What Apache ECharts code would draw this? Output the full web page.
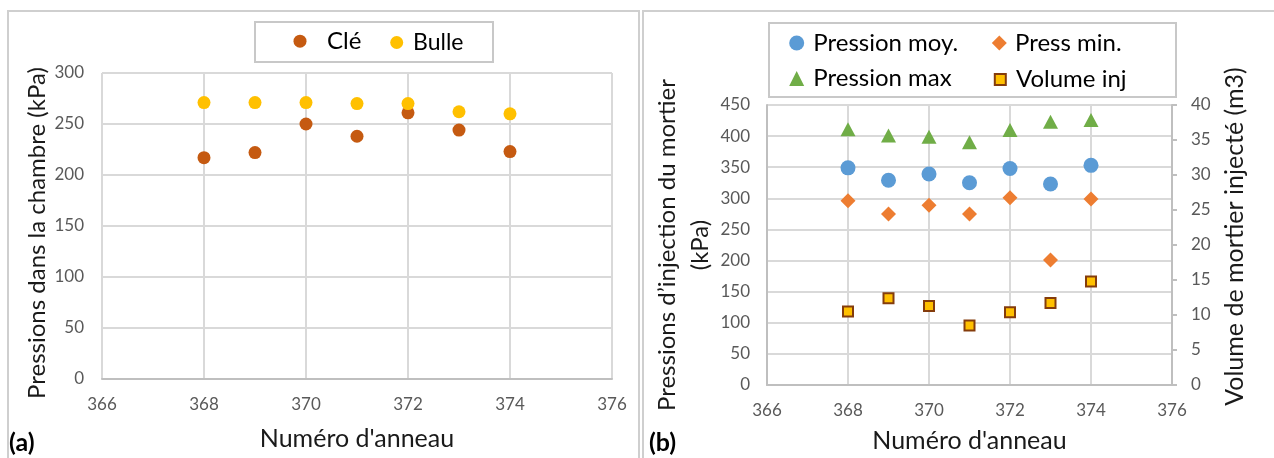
<!DOCTYPE html>
<html><head><meta charset="utf-8">
<script src="https://cdn.jsdelivr.net/npm/echarts@6/dist/echarts.min.js"></script>
<style>html,body{margin:0;padding:0;background:#fff}#c{width:1274px;height:458px}</style>
</head><body><div id="c"></div>
<script>
// ---- data ----
const rings = [368, 369, 370, 371, 372, 373, 374];
const cle = [217, 222, 250, 238, 261, 244, 223];
const bulle = [271, 271, 271, 270, 270, 262, 260];
const pressMoy = [349, 329, 339, 325, 348, 323, 353];
const pressMin = [296, 275, 289, 275, 301, 201, 299];
const pressMax = [411, 401, 399, 390, 410, 423, 426];
const volumeInj = [10.5, 12.4, 11.3, 8.5, 10.4, 11.7, 14.8];
const xRange = [366, 376, 2];
const yRangeA = [0, 300, 50];
const yRangeB = [0, 450, 50];
const yRangeVol = [0, 40, 5];

const pair = (xs, ys) => xs.map((x, i) => [x, ys[i]]);
const FONT = 'Lato, Carlito, Calibri, sans-serif';
const GRID = '#D9D9D9', AXIS = '#BFBFBF', TICK = '#595959', TITLE = '#1a1a1a';

function xAxis(grid, gap) {
  return {
    gridIndex: grid, type: 'value', min: xRange[0], max: xRange[1], interval: xRange[2],
    axisLine: { show: true, lineStyle: { color: AXIS, width: 2 } },
    axisTick: { show: false },
    splitLine: { show: true, lineStyle: { color: GRID, width: 2 } },
    axisLabel: { color: TICK, fontSize: 17, margin: 17, fontFamily: FONT },
    name: "Numéro d'anneau", nameLocation: 'middle', nameGap: gap,
    nameTextStyle: { color: TITLE, fontSize: 25, fontFamily: FONT }
  };
}
// one legend per entry: icon centred at (cx, cy), text starting at textX
function legendItem(name, cx, cy, textX, size, fs) {
  const pl = textX - (cx + size / 2 + 5);
  return {
    data: [name], left: cx - size / 2, top: cy - Math.max(size, fs) / 2, padding: 0,
    itemWidth: size, itemHeight: size, selectedMode: false,
    textStyle: { color: '#000', fontSize: fs, fontFamily: FONT, padding: [0, 0, 0, pl] }
  };
}

const option = {
  animation: false,
  textStyle: { fontFamily: FONT },
  grid: [
    { left: 102, top: 73, width: 510, height: 306 },
    { left: 767, top: 105, width: 405, height: 280 }
  ],
  xAxis: [xAxis(0, 47), xAxis(1, 43)],
  yAxis: [
    {
      gridIndex: 0, type: 'value', min: yRangeA[0], max: yRangeA[1], interval: yRangeA[2],
      axisLine: { show: false }, axisTick: { show: false },
      splitLine: { lineStyle: { color: GRID, width: 2 } },
      axisLabel: { color: TICK, fontSize: 17, margin: 18 },
      name: 'Pressions dans la chambre (kPa)', nameLocation: 'middle', nameRotate: 90, nameGap: 53,
      nameTextStyle: { color: TITLE, fontSize: 24, padding: [0, 14, 0, 0] }
    },
    {
      gridIndex: 1, type: 'value', min: yRangeB[0], max: yRangeB[1], interval: yRangeB[2],
      axisLine: { show: true, lineStyle: { color: AXIS, width: 2 } }, axisTick: { show: false },
      splitLine: { lineStyle: { color: GRID, width: 2 } },
      axisLabel: { color: TICK, fontSize: 17, margin: 17 },
      name: 'Pressions d\u2019injection du mortier\n(kPa)', nameLocation: 'middle', nameRotate: 90, nameGap: 49,
      nameTextStyle: { color: TITLE, fontSize: 24, lineHeight: 33 }
    },
    {
      gridIndex: 1, type: 'value', position: 'right', min: yRangeVol[0], max: yRangeVol[1], interval: yRangeVol[2],
      axisLine: { show: true, lineStyle: { color: AXIS, width: 2 } },
      axisTick: { show: true, inside: false, length: 5, lineStyle: { color: AXIS, width: 2 } },
      splitLine: { show: false },
      axisLabel: { color: TICK, fontSize: 17, margin: 19 },
      name: 'Volume de mortier inject\u00e9 (m3)', nameLocation: 'middle', nameRotate: 90, nameGap: 50,
      nameTextStyle: { color: TITLE, fontSize: 25, padding: [0, 0, 0, 17] }
    }
  ],
  legend: [
    legendItem('Clé', 300, 41.2, 327, 13, 24),
    legendItem('Bulle', 396.7, 42.5, 413, 13, 23),
    legendItem('Pression moy.', 796.7, 43.0, 813.3, 15, 24),
    legendItem('Press min.', 999.3, 43.0, 1015, 15, 24),
    legendItem('Pression max', 796.7, 78.6, 813.3, 15, 24),
    legendItem('Volume inj', 999.3, 79.4, 1015, 11, 24)
  ],
  series: [
    { name: 'Clé', type: 'scatter', xAxisIndex: 0, yAxisIndex: 0, symbol: 'circle', symbolSize: 13,
      itemStyle: { color: '#C55A11', opacity: 1 }, data: pair(rings, cle) },
    { name: 'Bulle', type: 'scatter', xAxisIndex: 0, yAxisIndex: 0, symbol: 'circle', symbolSize: 13,
      itemStyle: { color: '#FFC000', opacity: 1 }, data: pair(rings, bulle) },
    { name: 'Pression moy.', type: 'scatter', xAxisIndex: 1, yAxisIndex: 1, symbol: 'circle', symbolSize: 15,
      itemStyle: { color: '#5B9BD5', opacity: 1 }, data: pair(rings, pressMoy) },
    { name: 'Press min.', type: 'scatter', xAxisIndex: 1, yAxisIndex: 1, symbol: 'diamond', symbolSize: 15,
      itemStyle: { color: '#ED7D31', opacity: 1 }, data: pair(rings, pressMin) },
    { name: 'Pression max', type: 'scatter', xAxisIndex: 1, yAxisIndex: 1, symbol: 'triangle', symbolSize: [15, 14],
      itemStyle: { color: '#70AD47', opacity: 1 }, data: pair(rings, pressMax) },
    { name: 'Volume inj', type: 'scatter', xAxisIndex: 1, yAxisIndex: 2, symbol: 'rect', symbolSize: 10,
      itemStyle: { color: '#FFC000', borderColor: '#843C0C', borderWidth: 2, opacity: 1 }, data: pair(rings, volumeInj) }
  ],
  graphic: [
    { type: 'rect', shape: { x: 8, y: 11, width: 631, height: 460 }, style: { fill: null, stroke: '#CFCFCF', lineWidth: 2 }, silent: true },
    { type: 'rect', shape: { x: 643, y: 11, width: 640, height: 460 }, style: { fill: null, stroke: '#CFCFCF', lineWidth: 2 }, silent: true },
    { type: 'rect', shape: { x: 255, y: 22, width: 238, height: 40 }, style: { fill: null, stroke: '#C8C8C8', lineWidth: 2 }, silent: true },
    { type: 'rect', shape: { x: 769, y: 23, width: 407, height: 74 }, style: { fill: null, stroke: '#C8C8C8', lineWidth: 2 }, silent: true },
    { type: 'text', left: 9, top: 430, style: { text: '(a)', font: 'bold 25px ' + FONT, fill: '#000' } },
    { type: 'text', left: 649, top: 430, style: { text: '(b)', font: 'bold 25px ' + FONT, fill: '#000' } }
  ]
};
echarts.init(document.getElementById('c'), null, { renderer: 'canvas' }).setOption(option);
</script></body></html>
